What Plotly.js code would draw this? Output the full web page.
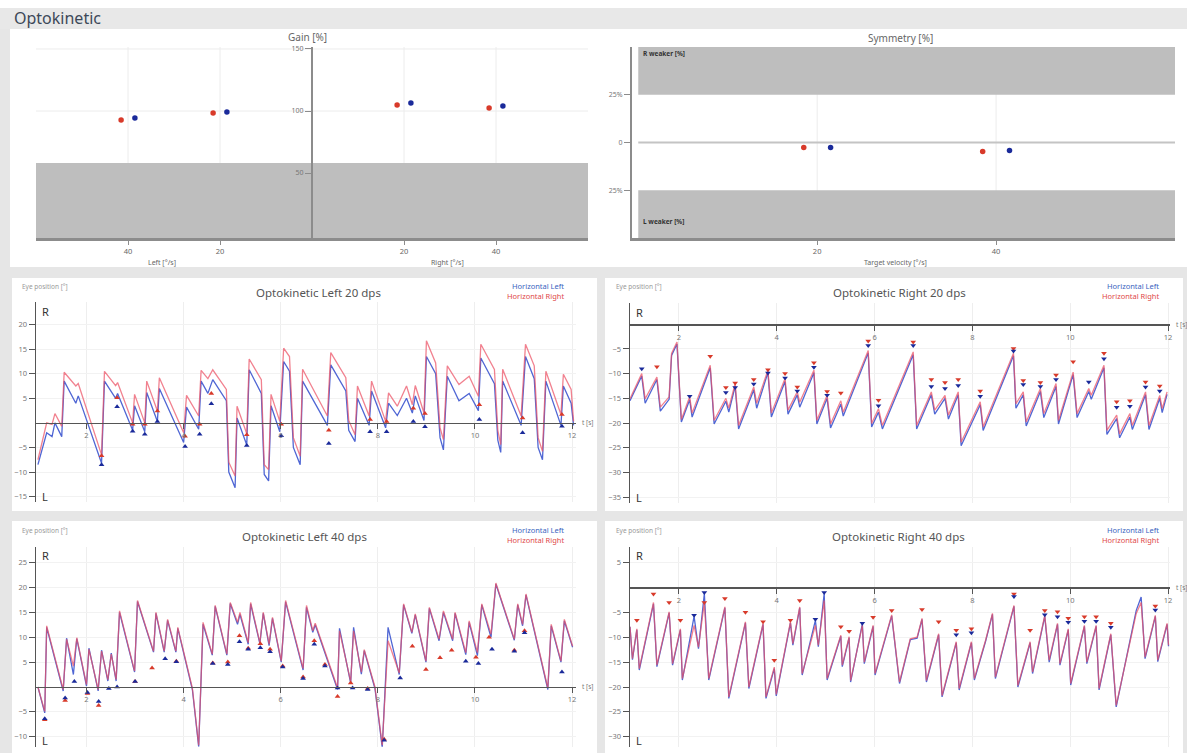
<!DOCTYPE html>
<html><head><meta charset="utf-8">
<script src="https://cdn.plot.ly/plotly-3.0.1.min.js"></script>
<style>html,body{margin:0;padding:0;background:#e6e6e6;}#chart{width:1187px;height:753px;}</style>
</head><body><div id="chart"></div>
<script>
// ---------- summary data ----------
const gainVel = [-40, -20, 20, 40];
const gainVelLabels = ['40', '20', '20', '40'];
const gainRight = [92.7, 98.4, 104.8, 102.4];   // red
const gainLeft  = [94.4, 99.2, 106.5, 104.0];   // blue
const symVel = [20, 40];
const symRight = [-2.6, -4.7];
const symLeft  = [-2.6, -4.2];

// ---------- Optokinetic Left 20 dps ----------
const L20_t = [1.00,1.18,1.29,1.35,1.49,1.54,1.78,1.83,2.31,2.37,
2.60,2.64,2.95,2.99,3.20,3.24,3.46,3.50,4.00,4.06,
4.31,4.36,4.50,4.60,4.88,4.93,5.06,5.10,5.30,5.35,
5.60,5.66,5.75,5.80,5.98,6.06,6.18,6.26,6.40,6.45,
6.96,7.03,7.34,7.40,7.53,7.58,7.82,7.87,8.16,8.22,
8.40,8.59,8.71,8.77,8.95,9.00,9.19,9.28,9.35,9.43,
9.67,9.88,10.07,10.12,10.40,10.47,10.53,10.57,10.95,11.04,
11.22,11.30,11.39,11.46,11.77,11.82,11.98,12.03];
const L20_right = [-7.5,0.0,-0.3,1.9,-0.7,10.3,7.5,8.0,-6.5,10.5,
7.6,8.2,0.0,5.8,0.0,8.5,2.4,9.2,-2.0,5.6,
1.4,10.7,9.0,10.8,6.8,-8.0,-10.8,3.4,-2.2,13.0,
8.8,-8.5,-9.5,5.8,0.3,15.2,13.5,-3.0,-6.8,10.9,
1.4,14.3,9.2,0.5,-2.4,7.5,1.4,8.5,0.3,6.1,
3.4,7.5,3.7,7.6,2.0,16.7,12.2,-1.0,-3.4,11.6,
7.8,9.5,5.4,16.0,10.9,-1.5,-4.4,10.9,1.4,16.0,
11.6,-3.0,-5.8,10.5,1.7,9.9,6.8,0.3];
const L20_left = [-8.5,-2.0,-2.8,0.0,-2.8,8.5,4.0,5.5,-8.2,8.5,
5.0,6.0,-1.5,3.5,-1.8,6.2,0.3,7.0,-4.0,3.2,
-1.3,8.5,6.0,8.8,4.5,-10.0,-13.2,1.0,-4.5,10.8,
6.0,-10.5,-11.8,3.5,-1.8,12.5,10.5,-5.0,-8.5,8.5,
-0.5,11.8,6.5,-1.5,-3.8,5.0,-0.5,6.5,-1.0,4.0,
1.5,5.0,2.0,5.5,0.5,13.5,10.0,-3.0,-5.5,9.5,
4.5,6.0,2.5,13.2,8.0,-3.5,-6.0,8.5,-0.5,13.5,
9.0,-5.0,-7.5,8.5,-0.5,7.5,4.0,-0.5];
const L20_mkLeft_t = [2.31,2.63,2.95,3.20,3.46,4.03,4.33,4.57,5.30,6.01,6.99,7.84,8.18,8.73,8.97,10.09,10.98,11.79];
const L20_mkLeft_v = [-8.5,3.3,-1.7,-2.3,0.3,-4.8,-2.3,3.9,-4.6,-2.6,-4.2,-1.8,-1.8,0.3,-0.8,0.7,-2.0,-0.7];
const L20_mkRight_t = [2.31,2.63,2.95,3.20,3.46,4.03,4.33,4.57,5.30,6.01,6.99,7.84,8.18,8.73,8.97,10.09,10.98,11.79];
const L20_mkRight_v = [-6.7,5.1,-0.3,-0.3,2.4,-2.7,-0.3,6.0,-2.4,-0.3,-1.5,0.7,0.3,3.0,1.9,3.7,1.0,1.7];

// ---------- Optokinetic Right 20 dps ----------
const R20_t = [1.00,1.24,1.31,1.55,1.62,1.80,1.85,1.96,2.05,2.22,
2.27,2.64,2.72,2.96,3.02,3.15,3.22,3.53,3.59,3.82,
3.89,4.17,4.23,4.42,4.47,4.76,4.82,5.03,5.10,5.31,
5.36,5.87,5.94,6.08,6.16,6.79,6.86,7.16,7.23,7.44,
7.51,7.71,7.77,8.16,8.22,8.84,8.89,9.04,9.10,9.39,
9.46,9.71,9.76,10.06,10.14,10.38,10.43,10.69,10.75,10.95,
11.01,11.22,11.27,11.54,11.61,11.83,11.88,11.98];
const R20_right = [-15.1,-10.0,-15.1,-10.7,-16.8,-14.7,-5.9,-3.6,-19.3,-14.7,
-18.0,-8.3,-19.5,-15.0,-17.0,-12.0,-20.5,-12.7,-16.0,-9.3,
-18.0,-11.0,-17.4,-13.7,-15.8,-9.3,-19.5,-14.4,-20.2,-15.5,
-17.8,-5.3,-20.1,-17.1,-20.5,-5.6,-20.5,-13.7,-17.4,-14.4,
-18.4,-13.7,-23.9,-15.7,-20.8,-5.9,-16.1,-13.7,-19.8,-13.0,
-18.1,-12.0,-19.5,-9.7,-18.1,-13.0,-14.4,-8.3,-21.5,-18.4,
-22.2,-18.1,-20.5,-13.7,-20.5,-14.4,-17.1,-13.7];
const R20_left = [-15.5,-10.5,-16.0,-11.2,-17.6,-15.2,-6.3,-4.0,-19.8,-15.3,
-18.8,-8.8,-20.2,-15.6,-17.8,-12.6,-21.2,-13.3,-17.0,-9.8,
-18.8,-11.6,-18.2,-14.3,-16.8,-9.8,-20.2,-15.0,-21.0,-16.2,
-18.6,-5.8,-20.8,-17.8,-21.2,-6.2,-21.2,-14.3,-18.2,-15.0,
-19.2,-14.3,-24.6,-16.3,-21.5,-6.4,-17.0,-14.3,-20.6,-13.6,
-18.9,-12.6,-20.2,-10.2,-18.9,-13.6,-15.2,-8.8,-22.3,-19.1,
-23.0,-18.8,-21.3,-14.3,-21.3,-15.0,-17.9,-14.2];
const R20_mkLeft_t = [1.24,2.22,2.96,3.15,3.53,3.82,4.17,4.42,4.76,5.03,5.87,6.08,6.79,7.16,7.44,7.71,8.16,8.84,9.04,9.39,9.71,10.38,10.69,10.95,11.22,11.54,11.83];
const R20_mkLeft_v = [-9.0,-14.6,-13.8,-12.8,-12.1,-9.9,-10.9,-13.5,-8.7,-14.4,-4.3,-16.5,-4.3,-12.6,-13.0,-12.4,-14.6,-5.4,-12.2,-12.6,-11.2,-11.7,-7.0,-16.8,-16.6,-12.7,-13.5];
const R20_mkRight_t = [1.55,2.64,2.96,3.15,3.53,3.82,4.17,4.42,4.76,5.03,5.31,5.87,6.08,6.79,7.16,7.44,7.71,8.16,8.84,9.04,9.39,9.71,10.06,10.69,10.95,11.22,11.54,11.83];
const R20_mkRight_v = [-8.6,-6.5,-12.8,-11.9,-11.2,-9.2,-10.0,-12.7,-7.8,-13.6,-13.9,-3.4,-15.4,-3.6,-11.2,-11.8,-11.2,-13.5,-4.9,-11.4,-11.8,-10.3,-7.6,-5.9,-15.7,-15.5,-11.7,-12.5];

// ---------- Optokinetic Left 40 dps ----------
const L40_t = [1.00,1.14,1.18,1.52,1.59,1.73,1.80,2.00,2.05,2.24,
2.31,2.44,2.51,2.61,2.68,2.99,3.05,3.38,3.43,3.60,
3.67,3.84,3.88,4.18,4.31,4.40,4.59,4.65,4.89,4.96,
5.11,5.16,5.33,5.38,5.57,5.64,5.76,5.83,6.01,6.10,
6.46,6.53,6.66,6.71,7.17,7.21,7.44,7.50,7.66,7.72,
7.94,8.09,8.21,8.44,8.53,8.70,8.77,8.99,9.06,9.26,
9.35,9.54,9.59,9.81,9.88,10.05,10.14,10.33,10.43,10.81,
10.88,10.98,11.05,11.50,11.57,11.77,11.84,12.01];
const L40_right = [0.0,-4.9,12.3,-0.5,9.6,4.2,9.9,0.5,7.6,-0.5,
7.2,1.5,6.6,1.5,15.3,3.2,17.4,7.2,15.0,7.2,
13.6,7.2,12.0,-0.2,-11.7,13.0,6.6,16.4,6.6,17.0,
13.0,15.0,8.9,17.0,8.9,15.0,8.6,14.0,5.2,17.4,
3.7,16.4,11.3,12.8,-0.2,11.3,1.1,11.3,3.0,7.5,
0.0,-11.7,9.3,2.8,16.7,11.0,14.7,5.2,16.0,9.6,
15.3,9.6,15.0,6.9,13.3,6.9,16.7,10.6,20.9,9.6,
16.7,12.6,18.7,-0.2,12.6,5.2,13.6,8.2];
const L40_left = [0.0,-5.2,12.0,-0.8,9.8,2.5,9.7,0.2,7.8,-0.8,
7.4,1.2,6.8,1.2,15.0,3.0,17.2,7.0,14.8,7.0,
13.4,7.0,11.8,-0.5,-12.0,12.6,6.4,16.2,6.4,16.8,
12.6,14.6,8.6,16.7,8.7,14.8,8.3,13.8,5.0,17.1,
3.4,16.0,11.0,12.5,-0.5,11.8,0.8,12.0,2.6,7.3,
-0.3,-12.2,12.0,2.5,16.5,10.8,14.5,5.0,15.8,9.3,
15.0,9.3,14.8,6.5,13.0,6.3,16.5,10.0,20.7,9.4,
16.5,12.3,18.5,-0.5,12.3,5.0,13.3,8.0];
const L40_mkLeft_t = [1.14,1.56,1.75,2.02,2.25,2.46,2.63,3.00,3.62,3.85,4.60,4.91,5.15,5.33,5.58,5.78,6.04,6.46,6.69,6.91,7.17,7.48,7.79,8.13,8.46,9.81,10.07,10.35,10.81,11.02,11.79];
const L40_mkLeft_v = [-6.4,-2.2,1.1,-1.1,-2.9,-0.3,0.0,1.1,5.7,5.1,4.7,4.5,9.1,7.6,7.9,7.1,4.0,1.7,8.6,4.2,-0.2,-0.2,-0.5,-10.7,1.8,5.2,4.7,7.6,7.2,10.9,3.0];
const L40_mkRight_t = [1.14,1.56,2.02,2.25,3.00,3.35,3.85,4.60,4.91,5.15,5.33,5.58,5.78,6.04,6.46,6.69,6.91,7.17,7.44,7.79,8.13,8.71,8.99,9.28,9.52,10.02,10.29,10.81,11.02];
const L40_mkRight_v = [-6.6,-2.7,-1.3,-3.7,1.1,3.8,5.2,4.8,5.0,10.3,7.8,8.7,7.6,4.2,2.0,9.3,4.5,-1.9,0.8,-0.3,-10.5,8.2,3.5,5.9,7.4,6.0,10.0,7.4,11.3];

// ---------- Optokinetic Right 40 dps ----------
const R40_t = [1.00,1.05,1.14,1.19,1.48,1.55,1.80,1.87,2.03,2.07,
2.31,2.40,2.52,2.61,2.94,3.02,3.36,3.43,3.72,3.78,
3.95,3.99,4.28,4.33,4.47,4.52,4.79,4.85,4.97,5.03,
5.31,5.34,5.48,5.51,5.75,5.79,5.97,6.01,6.35,6.51,
6.73,6.87,6.97,7.06,7.31,7.38,7.67,7.73,7.98,8.04,
8.27,8.41,8.47,8.85,8.93,9.18,9.23,9.48,9.57,9.74,
9.79,9.96,10.01,10.29,10.34,10.53,10.59,10.83,10.94,11.35,
11.45,11.53,11.74,11.79,11.98,12.01];
const R40_right = [-7.9,-14.3,-8.3,-16.3,-3.0,-15.6,-4.9,-15.3,-8.3,-18.3,
-7.6,-12.0,-3.0,-18.3,-3.9,-22.0,-6.9,-20.0,-7.2,-22.0,
-16.0,-21.5,-6.9,-11.3,-3.9,-17.3,-7.6,-11.6,-2.6,-18.3,
-9.6,-15.6,-9.9,-18.7,-7.6,-15.0,-7.6,-17.3,-5.5,-19.0,
-10.3,-10.0,-6.2,-18.7,-9.3,-21.7,-10.9,-20.3,-10.9,-18.3,
-10.6,-5.2,-18.0,-3.6,-19.7,-10.9,-17.0,-5.6,-14.6,-7.2,
-15.3,-8.3,-19.3,-7.6,-15.0,-7.6,-20.3,-9.3,-23.7,-5.2,
-3.0,-14.0,-5.6,-14.6,-7.2,-11.6];
const R40_left = [-7.9,-14.5,-8.5,-16.6,-3.3,-15.9,-5.1,-15.6,-8.5,-18.6,
-5.8,-12.3,-1.2,-18.6,-4.1,-22.3,-7.1,-20.3,-7.4,-22.3,
-16.3,-21.8,-7.1,-11.6,-4.1,-17.6,-6.6,-11.9,-1.2,-18.6,
-9.8,-15.9,-10.1,-19.0,-7.3,-15.3,-7.8,-17.6,-5.7,-19.3,
-10.5,-10.2,-6.4,-19.0,-9.5,-22.0,-11.1,-20.6,-11.1,-18.6,
-10.8,-5.4,-18.3,-3.8,-20.0,-11.1,-17.3,-5.8,-15.0,-7.4,
-15.6,-8.5,-19.6,-7.8,-15.3,-7.8,-20.6,-9.5,-24.0,-4.6,
-1.9,-14.3,-5.8,-14.9,-7.4,-11.8];
const R40_mkLeft_t = [2.31,2.52,4.79,4.97,5.75,7.67,7.98,8.85,9.48,9.74,9.96,10.29,10.53,10.83,11.74];
const R40_mkLeft_v = [-5.6,-1.0,-6.4,-1.0,-7.2,-9.5,-9.1,-1.8,-5.5,-5.9,-7.0,-6.8,-6.8,-8.0,-4.5];
const R40_mkRight_t = [1.14,1.48,1.80,2.03,2.52,2.94,3.36,3.72,3.95,4.28,4.47,5.31,5.48,5.97,6.35,6.97,7.31,7.67,7.98,8.85,9.18,9.48,9.74,9.96,10.29,10.53,10.83,11.74];
const R40_mkRight_v = [-6.6,-1.3,-3.0,-6.6,-3.0,-2.2,-5.0,-6.9,-14.6,-6.6,-2.6,-7.9,-8.8,-6.0,-4.6,-4.4,-6.9,-8.6,-8.3,-1.3,-8.6,-4.6,-4.9,-6.2,-5.9,-5.9,-7.2,-3.7];

// ---------- layout helpers ----------
const W = 1187, H = 753;
const fx = p => p / W, fy = p => 1 - p / H;
const FONT = 'Noto Sans, Open Sans, sans-serif';
const BLUE_LINE = '#4f66d4', RED_LINE = 'rgba(236,80,100,0.72)';
const BLUE_MK = '#1a2a9a', RED_MK = '#d83a2a';
const AXC = '#555';

const shapes = [];
const annotations = [];
function rectPx(x0, y0, x1, y1, color) {
  shapes.push({type:'rect', xref:'paper', yref:'paper', x0:fx(x0), x1:fx(x1), y0:fy(y1), y1:fy(y0),
    fillcolor:color, line:{width:0}, layer:'below'});
}
function ann(px, py, text, o) {
  o = o || {};
  annotations.push({xref:'paper', yref:'paper', x:fx(px), y:fy(py), text:text, showarrow:false,
    xanchor:o.xa || 'left', yanchor:o.ya || 'middle',
    font:{family:FONT, size:o.size || 8, color:o.color || '#666', weight:o.weight || 'normal'}});
}

// backgrounds
rectPx(0, 0, 1187, 8, '#ffffff');
rectPx(0, 8, 1187, 29, '#e8e8e8');
rectPx(10, 29, 1187, 267, '#ffffff');
rectPx(12, 278, 597, 511, '#ffffff');
rectPx(605, 278, 1183, 511, '#ffffff');
rectPx(12, 521, 597, 753, '#ffffff');
rectPx(605, 521, 1183, 753, '#ffffff');

const layout = {
  width: W, height: H, margin:{l:0, r:0, t:0, b:0},
  paper_bgcolor:'#e6e6e6', plot_bgcolor:'rgba(0,0,0,0)', showlegend:false,
  font:{family:FONT}, shapes: shapes, annotations: annotations
};

// ---------- Gain chart ----------
const gainYR = [-2.4, 151.6];
layout.xaxis = {domain:[fx(36), fx(588)], range:[-60, 60], anchor:'y', showline:true, linecolor:'#8c8c8c', linewidth:2.5,
  ticks:'outside', ticklen:4, tickcolor:'#8c8c8c', tickvals:gainVel, ticktext:gainVelLabels,
  tickfont:{size:7.5, color:'#666'}, showgrid:false, zeroline:false, fixedrange:true};
layout.yaxis = {domain:[fy(238), fy(47)], range:gainYR, anchor:'free', position:fx(312), showline:true,
  linecolor:'#8c8c8c', linewidth:2, ticks:'outside', ticklen:6, tickcolor:'#8c8c8c', tickvals:[50,100,150],
  tickfont:{size:7, color:'#777'}, showgrid:false, zeroline:false, fixedrange:true};
[100,150].forEach(v => shapes.push({type:'line', xref:'x', yref:'y', x0:-60, x1:60, y0:v, y1:v, line:{color:'#ececec', width:1}, layer:'below'}));
gainVel.forEach(v => shapes.push({type:'line', xref:'x', yref:'y', x0:v, x1:v, y0:gainYR[0], y1:gainYR[1], line:{color:'#ececec', width:1}, layer:'below'}));
shapes.push({type:'rect', xref:'x', yref:'y', x0:-60, x1:60, y0:gainYR[0], y1:58, fillcolor:'#bebebe', line:{width:0}, layer:'below'});
ann(308, 37, 'Gain [%]', {xa:'center', size:10, color:'#666'});
ann(162, 262, 'Left [°/s]', {xa:'center', size:7});
ann(447, 262, 'Right [°/s]', {xa:'center', size:7});

// ---------- Symmetry chart ----------
layout.xaxis2 = {domain:[fx(632), fx(1175)], range:[-0.7, 60], anchor:'y2', showline:true, linecolor:'#8c8c8c', linewidth:2.5,
  ticks:'outside', ticklen:4, tickcolor:'#8c8c8c', tickvals:symVel, tickfont:{size:7.5, color:'#666'},
  showgrid:false, zeroline:false, fixedrange:true};
layout.yaxis2 = {domain:[fy(238), fy(47)], range:[-50, 50], anchor:'x2', showline:true, linecolor:'#8c8c8c', linewidth:2,
  ticks:'outside', ticklen:6, tickcolor:'#8c8c8c', tickvals:[-25,0,25], ticktext:['25%','0','25%'],
  tickfont:{size:7, color:'#777'}, showgrid:false, zeroline:false, fixedrange:true};
symVel.forEach(v => shapes.push({type:'line', xref:'x2', yref:'y2', x0:v, x1:v, y0:-50, y1:50, line:{color:'#ececec', width:1}, layer:'below'}));
shapes.push({type:'rect', xref:'x2', yref:'y2', x0:0, x1:60, y0:25, y1:50, fillcolor:'#bebebe', line:{width:0}, layer:'below'});
shapes.push({type:'rect', xref:'x2', yref:'y2', x0:0, x1:60, y0:-50, y1:-25, fillcolor:'#bebebe', line:{width:0}, layer:'below'});
shapes.push({type:'line', xref:'x2', yref:'y2', x0:0, x1:60, y0:0, y1:0, line:{color:'#c4c4c4', width:2}, layer:'below'});
ann(900, 38, 'Symmetry [%]', {xa:'center', size:10, color:'#666'});
ann(895, 262, 'Target velocity [°/s]', {xa:'center', size:7});
ann(641, 53, 'R weaker [%]', {size:6.5, color:'#333', weight:'bold'});
ann(641, 222, 'L weaker [%]', {size:6.5, color:'#333', weight:'bold'});

// ---------- trace panels ----------
function panel(n, xd, yd, xr, yr, yticks, title, titleX, topY, rightX) {
  const ydom = [fy(yd[1]), fy(yd[0])];
  const zeroPos = ydom[0] + (0 - yr[0]) / (yr[1] - yr[0]) * (ydom[1] - ydom[0]);
  layout['xaxis' + n] = {domain:[fx(xd[0]), fx(xd[1])], range:xr, anchor:'free', position:zeroPos,
    showline:true, linecolor:AXC, linewidth:1.5, ticks:'outside', ticklen:5, tickcolor:AXC,
    tickvals:[2,4,6,8,10,12], tickfont:{size:7.5, color:'#777'}, showgrid:true, gridcolor:'#eeeeee',
    zeroline:false, fixedrange:true};
  layout['yaxis' + n] = {domain:ydom, range:yr, anchor:'x' + n, showline:true, linecolor:AXC, linewidth:1.5,
    ticks:'outside', ticklen:6, tickcolor:AXC, tickvals:yticks, tickfont:{size:7.5, color:'#777'},
    showgrid:true, gridcolor:'#f2f2f2', zeroline:false, fixedrange:true};
  const zeroPx = H * (1 - zeroPos);
  ann(titleX, topY + 14, title, {xa:'center', size:11.5, color:'#555'});
  ann(xd[0] - 16, topY + 8, 'Eye position [°]', {size:6.5, color:'#999'});
  ann(rightX, topY + 8, 'Horizontal Left', {xa:'right', size:7.5, color:'#3a64c0'});
  ann(rightX, topY + 18, 'Horizontal Right', {xa:'right', size:7.5, color:'#e04848'});
  ann(xd[0] + 4, yd[0] + 9, 'R', {size:11, color:'#333'});
  ann(xd[0] + 4, yd[1] - 6, 'L', {size:11, color:'#333'});
  ann(xd[1] + 4, zeroPx, 't [s]', {size:6.5, color:'#777'});
}
panel(3, [36,576], [302,502], [0.96,12.08], [-16.1,24.6], [-15,-10,-5,5,10,15,20], 'Optokinetic Left 20 dps', 318, 278, 566);
panel(4, [630,1170], [303,503], [1.0,12.04], [-36.2,4.3], [-35,-30,-25,-20,-15,-10,-5], 'Optokinetic Right 20 dps', 899, 278, 1161);
panel(5, [36,576], [546.7,746.7], [0.96,12.08], [-12.0,28.2], [-10,-5,5,10,15,20,25], 'Optokinetic Left 40 dps', 305, 522, 566);
panel(6, [630,1170], [546.7,746.7], [1.0,12.04], [-32.0,8.2], [-30,-25,-20,-15,-10,-5,5], 'Optokinetic Right 40 dps', 898, 522, 1161);

// ---------- traces ----------
const traces = [];
const dodge = 1.5;
traces.push({type:'scatter', mode:'markers', xaxis:'x', yaxis:'y', x:gainVel.map(v => v - dodge), y:gainRight,
  marker:{color:RED_MK, size:5.5}});
traces.push({type:'scatter', mode:'markers', xaxis:'x', yaxis:'y', x:gainVel.map(v => v + dodge), y:gainLeft,
  marker:{color:BLUE_MK, size:5.5}});
traces.push({type:'scatter', mode:'markers', xaxis:'x2', yaxis:'y2', x:symVel.map(v => v - dodge), y:symRight,
  marker:{color:RED_MK, size:5.5}});
traces.push({type:'scatter', mode:'markers', xaxis:'x2', yaxis:'y2', x:symVel.map(v => v + dodge), y:symLeft,
  marker:{color:BLUE_MK, size:5.5}});

function addPanel(n, t, left, right, mlt, mlv, mrt, mrv, sym) {
  const ax = {xaxis:'x' + n, yaxis:'y' + n};
  traces.push(Object.assign({type:'scatter', mode:'lines', x:t, y:left, line:{color:BLUE_LINE, width:1.3}}, ax));
  traces.push(Object.assign({type:'scatter', mode:'lines', x:t, y:right, line:{color:RED_LINE, width:1.3}}, ax));
  traces.push(Object.assign({type:'scatter', mode:'markers', x:mrt, y:mrv, marker:{color:RED_MK, size:5, symbol:sym}}, ax));
  traces.push(Object.assign({type:'scatter', mode:'markers', x:mlt, y:mlv, marker:{color:BLUE_MK, size:5, symbol:sym}}, ax));
}
addPanel(3, L20_t, L20_left, L20_right, L20_mkLeft_t, L20_mkLeft_v, L20_mkRight_t, L20_mkRight_v, 'triangle-up');
addPanel(4, R20_t, R20_left, R20_right, R20_mkLeft_t, R20_mkLeft_v, R20_mkRight_t, R20_mkRight_v, 'triangle-down');
addPanel(5, L40_t, L40_left, L40_right, L40_mkLeft_t, L40_mkLeft_v, L40_mkRight_t, L40_mkRight_v, 'triangle-up');
addPanel(6, R40_t, R40_left, R40_right, R40_mkLeft_t, R40_mkLeft_v, R40_mkRight_t, R40_mkRight_v, 'triangle-down');

ann(12, 18, 'Optokinetic', {size:16, color:'#3c4858'});

Plotly.newPlot('chart', traces, layout, {displayModeBar:false, staticPlot:true});
</script></body></html>
